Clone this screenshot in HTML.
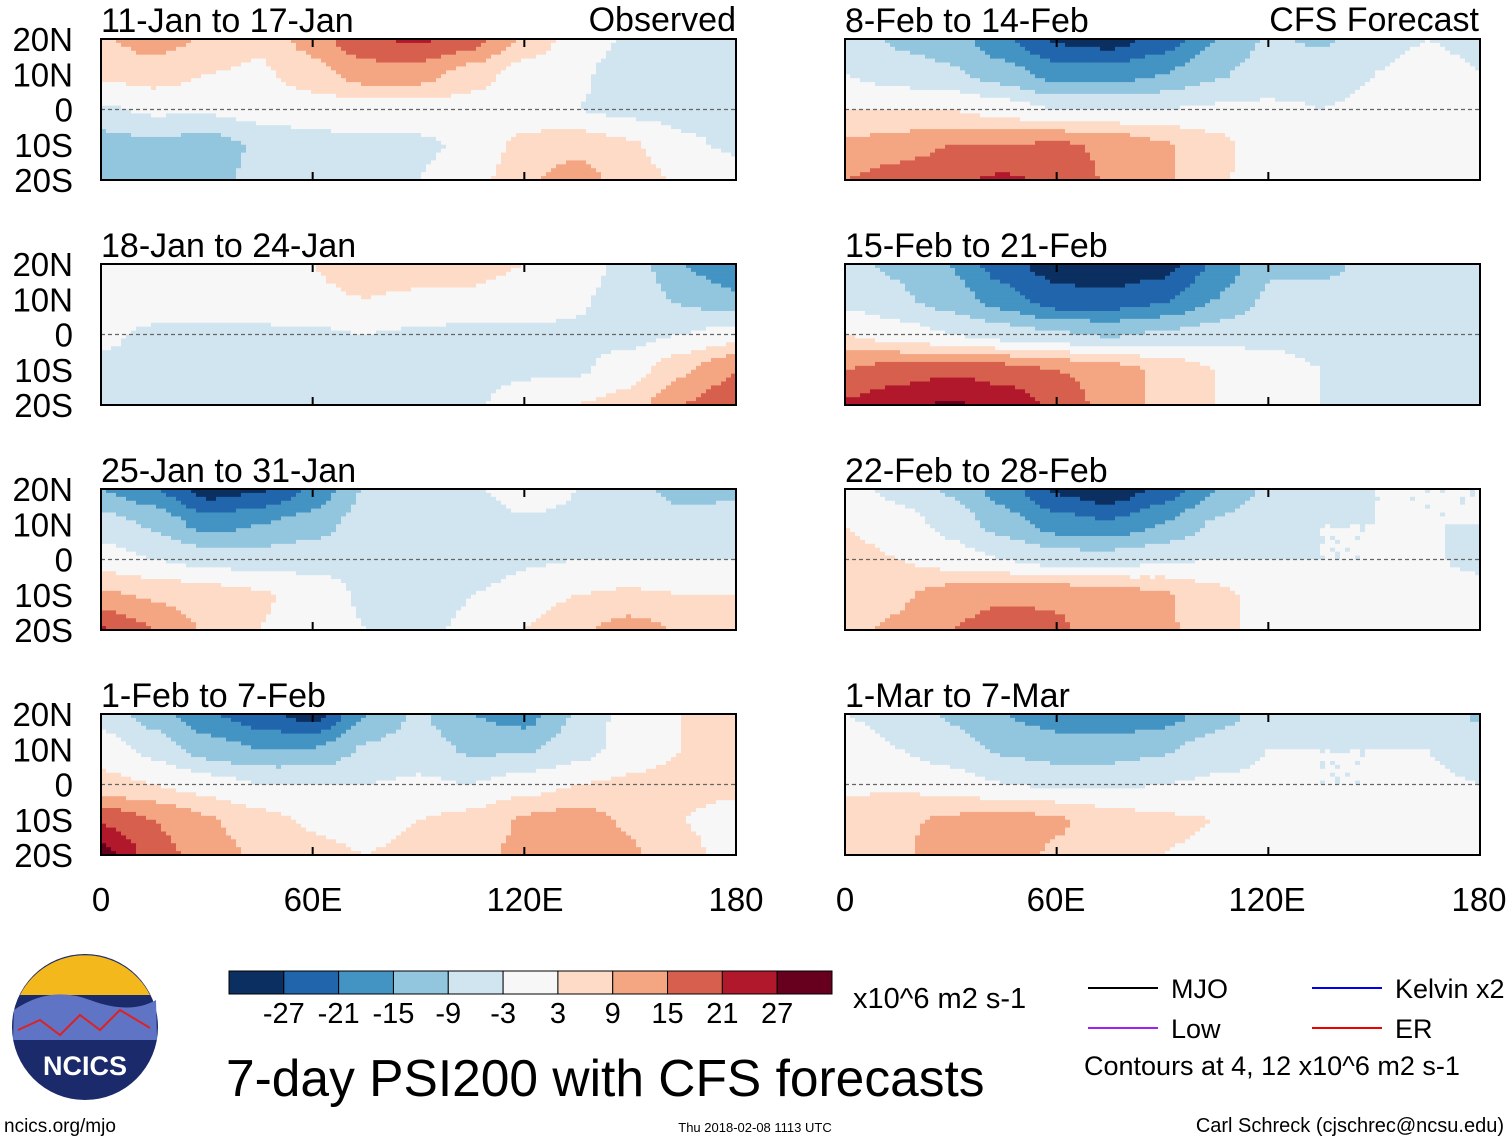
<!DOCTYPE html>
<html><head><meta charset="utf-8">
<style>
body{margin:0;background:#fff;width:1510px;height:1142px;overflow:hidden;font-family:"Liberation Sans",sans-serif;}
svg text{font-family:"Liberation Sans",sans-serif;fill:#000;}
</style></head>
<body>
<svg id="c" width="1510" height="1142" viewBox="0 0 1510 1142" xmlns="http://www.w3.org/2000/svg"></svg>
<script>
const lons=[0,15,30,45,60,75,90,105,120,135,150,165,180];
const lats=[20,10,0,-10,-20];
const levels=[-27,-21,-15,-9,-3,3,9,15,21,27];
const colors=["#0b2f60","#2166ac","#4393c3","#92c5de","#d1e5f0","#f7f7f7","#fddbc7","#f4a582","#d6604d","#b2182b","#67001f"];
const titles=["11-Jan to 17-Jan","18-Jan to 24-Jan","25-Jan to 31-Jan","1-Feb to 7-Feb","8-Feb to 14-Feb","15-Feb to 21-Feb","22-Feb to 28-Feb","1-Mar to 7-Mar"];
const p1=[[8,12,8,4,12,20,22,18,8,0,-4,-6,-6],[4,6,3,2,6,12,12,6,0,-2,-6,-6,-5],[-4,-2,-2,0,0,0,0,0,-1,-3,-5,-5,-4],[-12,-10,-12,-8,-5,-4,-4,-2,5,7,4,-2,-4],[-10,-12,-10,-8,-5,-4,-3,0,8,12,6,2,0]];
const p2=[[3,0,0,0,3,6,6,5,3,0,-5,-15,-20],[0,0,0,0,2,3,2,2,0,-2,-6,-10,-14],[-2,-4,-4,-4,-4,-3,-4,-5,-4,-4,-5,-3,0],[-4,-5,-5,-5,-5,-5,-5,-5,-4,-4,0,8,15],[-6,-4,-3,-5,-5,-4,-4,-4,0,3,6,15,20]];
const p3=[[-15,-20,-30,-28,-20,-8,-4,-4,0,-3,-6,-12,-10],[-6,-10,-18,-15,-12,-6,-6,-6,-4,-4,-4,-6,-6],[0,-3,-5,-6,-5,-4,-6,-8,-4,-3,-3,-3,-3],[10,8,6,4,0,-4,-6,-3,0,3,4,3,3],[22,15,8,3,0,-3,-4,-2,3,8,12,8,3]];
const p4=[[-5,-12,-20,-25,-30,-15,-8,-15,-18,-8,0,3,5],[0,-5,-12,-15,-15,-8,-6,-10,-10,-6,0,3,5],[5,3,0,-3,-3,-3,-2,-3,0,3,4,5,5],[20,15,10,5,2,0,3,5,10,12,8,3,0],[30,18,12,8,5,3,5,8,10,12,10,5,0]];
const p5=[[-6,-10,-12,-20,-28,-30,-25,-15,-8,-10,-6,-3,-5],[-3,-6,-8,-12,-18,-18,-15,-10,-6,-5,-3,0,-3],[3,3,3,0,-3,-3,-3,-2,-2,-3,-2,0,-3],[10,12,15,15,16,14,10,5,0,-2,-3,-2,0],[15,18,20,22,20,14,10,4,0,-2,-3,-3,0]];
const p6=[[-8,-10,-15,-25,-30,-32,-30,-20,-10,-10,-8,-6,-5],[-5,-8,-12,-18,-25,-25,-22,-15,-8,-8,-6,-6,-6],[3,0,-3,-6,-8,-10,-8,-6,-5,-6,-6,-6,-6],[15,18,20,18,15,12,8,3,0,-3,-5,-5,-5],[22,25,28,25,20,12,8,3,0,-3,-4,-4,-4]];
const p7=[[0,-5,-10,-18,-28,-32,-25,-15,-8,-5,-3,-3,-3],[3,0,-5,-12,-18,-20,-15,-8,-5,-3,-3,-3,-3],[5,3,0,-3,-6,-6,-4,-3,-3,-3,-3,-2,-5],[5,8,12,14,14,12,10,5,0,0,0,0,0],[8,10,15,18,16,12,10,6,0,0,0,0,0]];
const p8=[[-3,-5,-10,-15,-18,-20,-18,-12,-6,-5,-5,-5,-10],[0,-3,-6,-10,-12,-12,-10,-6,-3,-3,-3,-3,-6],[2,2,0,-3,-4,-4,-3,-2,-2,-3,-3,-2,-3],[5,8,10,12,10,6,4,3,0,0,0,0,0],[6,8,12,12,8,5,3,2,0,0,0,0,0]];
const panelsData=[p1,p2,p3,p4,p5,p6,p7,p8];
const colBarLabels=["-27","-21","-15","-9","-3","3","9","15","21","27"];

const NS="http://www.w3.org/2000/svg";
const svg=document.getElementById('c');
function el(tag,attrs,parent){const e=document.createElementNS(NS,tag);for(const k in attrs)e.setAttribute(k,attrs[k]);(parent||svg).appendChild(e);return e;}
function txt(s,x,y,size,anchor,parent){const t=el('text',{x:x,y:y,'font-size':size,'text-anchor':anchor||'start'},parent);t.textContent=s;return t;}
function colorFor(v){let i=0;while(i<levels.length&&v>=levels[i])i++;return colors[i];}
function sample(d,lon,lat){
  let fi=lon/15; let i=Math.min(Math.floor(fi),11); let fx=fi-i;
  let fj=(20-lat)/10; let j=Math.min(Math.floor(fj),3); let fy=fj-j;
  const a=d[j][i],b=d[j][i+1],c=d[j+1][i],e=d[j+1][i+1];
  const sx=fx*fx*(3-2*fx)*0.5+fx*0.5, sy=fy*fy*(3-2*fy)*0.5+fy*0.5;
  return a*(1-sx)*(1-sy)+b*sx*(1-sy)+c*(1-sx)*sy+e*sx*sy;
}
const W=635,H=141;
const pos=[[101,39],[101,264],[101,489],[101,714],[845,39],[845,264],[845,489],[845,714]];
panelsData.forEach((d,p)=>{
  const [x0,y0]=pos[p];
  const g=el('g',{});
  
  
  const x=lon=>x0+lon/180*W, y=lat=>y0+(20-lat)/40*H;
  const NX=127,NY=36;
  for(let r=0;r<NY;r++){
    const lat=20-(r+0.5)*40/NY;
    let start=0,cur=null;
    for(let c=0;c<=NX;c++){
      const col=c<NX?colorFor(sample(d,(c+0.5)*180/NX,lat)):null;
      if(col!==cur){
        if(cur!==null){el('rect',{x:(x0+start*W/NX).toFixed(2),y:(y0+r*H/NY).toFixed(2),width:((c-start)*W/NX+0.6).toFixed(2),height:(H/NY+0.6).toFixed(2),fill:cur},g);}
        cur=col;start=c;
      }
    }
  }
  el('line',{x1:x0,x2:x0+W,y1:y(0),y2:y(0),stroke:'#666','stroke-width':1.2,'stroke-dasharray':'4,3'},g);
  el('rect',{x:x0,y:y0,width:W,height:H,fill:'none',stroke:'#000','stroke-width':2},g);
  [60,120].forEach(L=>{el('line',{x1:x(L),x2:x(L),y1:y0,y2:y0+8,stroke:'#000','stroke-width':2},g);el('line',{x1:x(L),x2:x(L),y1:y0+H,y2:y0+H-8,stroke:'#000','stroke-width':2},g);});
  const t=txt(titles[p],x0,y0-7,34,'start',g);
  
  
  if(p<4){['20N','10N','0','10S','20S'].forEach((s,k)=>{const lt=txt(s,73,y(lats[k])+12,33,'end',g);});}
});
txt('Observed',736,31,34,'end');
txt('CFS Forecast',1479,31,34,'end');
[[101,'0'],[313,'60E'],[525,'120E'],[736,'180'],[845,'0'],[1056,'60E'],[1267,'120E'],[1479,'180']].forEach(([xx,s])=>{const t=txt(s,xx,911,33,'middle');});
const cb=el('g',{});
const cbw=(832-229)/11;
colors.forEach((c,i)=>el('rect',{x:229+i*cbw,y:971,width:cbw,height:23,fill:c,stroke:'#000','stroke-width':1},cb));
colBarLabels.forEach((s,i)=>txt(s,229+(i+1)*cbw,1023,29,'middle',cb));
txt('x10^6 m2 s-1',853,1008,29,'start');
const tt=txt('7-day PSI200 with CFS forecasts',226,1096,51.5,'start');
const lg=el('g',{});
[[1088,988,'#000','MJO'],[1312,988,'#0000ee','Kelvin x2'],[1088,1028,'#a020f0','Low'],[1312,1028,'#ee0000','ER']].forEach(([lx,ly,c,s])=>{el('line',{x1:lx,x2:lx+70,y1:ly,y2:ly,stroke:c,'stroke-width':2},lg);txt(s,lx+83,ly+10,27,'start',lg);});
txt('Contours at 4, 12 x10^6 m2 s-1',1084,1075,27,'start',lg);
const lo=el('g',{});
el('circle',{cx:85,cy:1027,r:73,fill:'#1b2a6b'},lo);
el('path',{d:'M20,995 A73,73 0 0 1 150,995 Z',fill:'#f2b81c'},lo);
el('path',{d:'M14,1010 Q50,985 90,1000 T156,1000 L157,1040 L13,1040 Z',fill:'#5f74c4'},lo);
el('path',{d:'M18,1030 L40,1020 L60,1035 L80,1015 L100,1030 L120,1010 L150,1028',fill:'none',stroke:'#d22','stroke-width':2},lo);
const nt=txt('NCICS',85,1075,27,'middle',lo);nt.setAttribute('font-weight','bold');nt.style.fill='#fff';
txt('ncics.org/mjo',4,1132,19,'start');
txt('Thu 2018-02-08 1113 UTC',755,1132,13,'middle');
txt('Carl Schreck (cjschrec@ncsu.edu)',1504,1132,20,'end');
</script>
</body></html>
